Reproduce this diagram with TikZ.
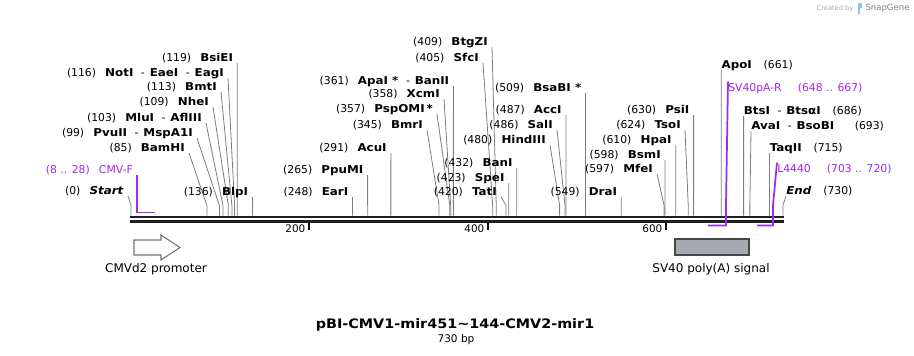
\documentclass[tikz,border=0pt]{standalone}
\usepackage{fontspec}
\setmainfont{DejaVu Sans}[BoldFeatures={FakeStretch=1.1},BoldItalicFeatures={FakeStretch=1.1}]
\usepackage{tikz}
\usetikzlibrary{positioning}
\definecolor{primer}{RGB}{160,40,240}
\definecolor{siteline}{RGB}{125,125,125}
\definecolor{featfill}{RGB}{166,171,178}
\definecolor{snapblue}{RGB}{150,195,235}
\def\lgap{\hspace{0.85em}}
\def\rgap{\hspace{1.1em}}
\def\dsh{\hspace{0.7em}-\hspace{0.45em}}
\tikzset{
strand/.style = {
    draw=black!88,
    line width=2pt
  },
cut line/.style = {
    draw=siteline,
    line width=0.6pt
  },
site label/.style = {
    inner ysep=0.8pt,
    text depth=0pt,
    font=\fontsize{8.1}{9}\selectfont
  },
site label east/.style = {inner xsep=3pt},
site label west/.style = {inner xsep=0pt},
primer line/.style = {
    draw=primer,
    line width=1.3pt
  },
tick/.style = {
    draw=black,
    line width=1.5pt
  },
tick label/.style = {
    anchor=base east,
    inner sep=0pt,
    font=\fontsize{7.8}{9}\selectfont
  },
feature arrow/.style = {
    draw=black!55,
    fill=white,
    line width=0.8pt
  },
feature box/.style = {
    draw=black!72,
    fill=featfill,
    line width=0.9pt
  },
feature label/.style = {
    anchor=base,
    inner sep=0pt,
    font=\fontsize{9}{11}\selectfont
  }
}
\def\CutSites#1#2{%
  \foreach \bp/\tx/\ty/\txt [count=\i] in {#2} {
     \coordinate (#1 site \i) at ({131+0.893*\bp},215.5);
     \node[site label, site label #1, anchor=south #1, name=#1 label \i] at (\tx,\ty) {\txt};
     \draw[cut line] (#1 site \i) -- ++(0,-10) -- (#1 label \i.south #1);
  }
}

\begin{document}
\begin{tikzpicture}[x=0.75pt,y=-0.75pt]
\useasboundingbox (0,0) rectangle (914,355);
% sequence
\coordinate (top start) at (130,217);
\coordinate (top end) at (783.5,217);
\coordinate (bottom start) at (130,221.5);
\coordinate (bottom end) at (783.5,221.5);
\draw[strand] (top start) -- (top end);
\draw[strand] (bottom start) -- (bottom end);
\foreach \pos/\tx in {200/308.5, 400/487.5, 600/665.5} {
   \coordinate (tick \pos) at (\tx,222.5);
   \draw[tick] (tick \pos) -- ++(0,7);
   \node[tick label, name=tick label \pos] at (\tx-3,232.3) {\pos};
}
% enzymes
\CutSites{east}{
  0/128/196/{(0)\lgap\textbf{\textit{Start}}},
  85/189/153/{(85)\lgap\textbf{BamHI}},
  99/197/138/{(99)\lgap\textbf{PvuII}\dsh\textbf{MspA1I}},
  103/206/123/{(103)\lgap\textbf{MluI}\dsh\textbf{AflIII}},
  109/213/107/{(109)\lgap\textbf{NheI}},
  113/221/92/{(113)\lgap\textbf{BmtI}},
  116/228/78/{(116)\lgap\textbf{NotI}\dsh\textbf{EaeI}\dsh\textbf{EagI}},
  119/237.3/63/{(119)\lgap\textbf{BsiEI}},
  136/252.4/197/{(136)\lgap\textbf{BlpI}},
  248/352.5/197/{(248)\lgap\textbf{EarI}},
  265/367.6/175/{(265)\lgap\textbf{PpuMI}},
  291/390.9/153/{(291)\lgap\textbf{AcuI}},
  345/427/130/{(345)\lgap\textbf{BmrI}},
  357/437/114/{(357)\lgap\textbf{PspOMI\,*}},
  358/444/99/{(358)\lgap\textbf{XcmI}},
  361/453.4/86/{(361)\lgap\textbf{ApaI *}\dsh\textbf{BanII}},
  405/483/63/{(405)\lgap\textbf{SfcI}},
  409/492/47/{(409)\lgap\textbf{BtgZI}},
  420/501/197/{(420)\lgap\textbf{TatI}},
  423/508.7/183/{(423)\lgap\textbf{SpeI}},
  432/516.8/168/{(432)\lgap\textbf{BanI}},
  480/550/145/{(480)\lgap\textbf{HindIII}},
  486/557/130/{(486)\lgap\textbf{SalI}},
  487/565.9/115/{(487)\lgap\textbf{AccI}},
  509/585.5/93/{(509)\lgap\textbf{BsaBI *}},
  549/621.3/197/{(549)\lgap\textbf{DraI}},
  597/657/174/{(597)\lgap\textbf{MfeI}},
  598/665/160/{(598)\lgap\textbf{BsmI}},
  610/675.7/145/{(610)\lgap\textbf{HpaI}},
  624/685/130/{(624)\lgap\textbf{TsoI}},
  630/693.6/115/{(630)\lgap\textbf{PsiI}}}
\CutSites{west}{
  661/721.3/70/{\textbf{ApoI}\rgap(661)},
  686/743.6/116/{\textbf{BtsI}\dsh\textbf{BtsαI}\rgap(686)},
  693/751/131/{\textbf{AvaI}\dsh\textbf{BsoBI}\hspace{1.9em}(693)},
  715/769.5/153/{\textbf{TaqII}\rgap(715)},
  730/786/196/{\textbf{\textit{End}}\rgap(730)}}
% primers
\node[site label, site label east, anchor=south east, text=primer] (cmv f) at (137,175) {(8 .. 28)\lgap CMV-F};
\coordinate (cmv f end) at (155,212.5);
\draw[primer line] (cmv f.south east) -- (137,212.5) -- (cmv f end);
\node[site label, site label west, anchor=south west, text=primer] (sv40 r) at (728,92.5) {SV40pA-R\hspace{1.5em}(648 .. 667)};
\coordinate (sv40 r end) at (708,225.5);
\draw[primer line] (sv40 r.north west) -- (726,205) -- (726,225.5) -- (sv40 r end);
\node[site label, site label west, anchor=south west, text=primer] (l4440) at (777,173.5) {L4440\hspace{1.5em}(703 .. 720)};
\coordinate (l4440 end) at (757,225.5);
\draw[primer line] (l4440.north west) -- (773,205) -- (773,225.5) -- (l4440 end);
% features
\draw[feature arrow] (134,240) -- (161,240) -- (161,235) -- (180,247.5) -- (161,260) -- (161,255) -- (134,255) -- cycle;
\node[feature label] (cmvd2) at (156,272) {CMVd2 promoter};
\draw[feature box] (675,239) rectangle (749,255);
\node[feature label] (sv40 polya) at (711,272) {SV40 poly(A) signal};
% title
\node[anchor=base, inner sep=0pt, font=\fontsize{9.8}{12}\selectfont\bfseries] (title) at (455,328.5) {pBI-CMV1-mir451\textasciitilde144-CMV2-mir1};
\node[anchor=base, inner sep=0pt, font=\fontsize{7.9}{9}\selectfont] (length) at (456,342.5) {730 bp};
% watermark
\node[inner sep=0pt, text=black!35, font=\fontsize{5}{6}\selectfont] (created) at (835,8.5) {Created by};
\fill[snapblue] (857.5,3) rectangle (860,13.5);
\fill[snapblue] (860,3) rectangle (862,8);
\node[inner sep=0pt, text=black!50, font=\fontsize{6.4}{7}\selectfont] (snapgene) at (887.5,8.5) {SnapGene};
\end{tikzpicture}
\end{document}
